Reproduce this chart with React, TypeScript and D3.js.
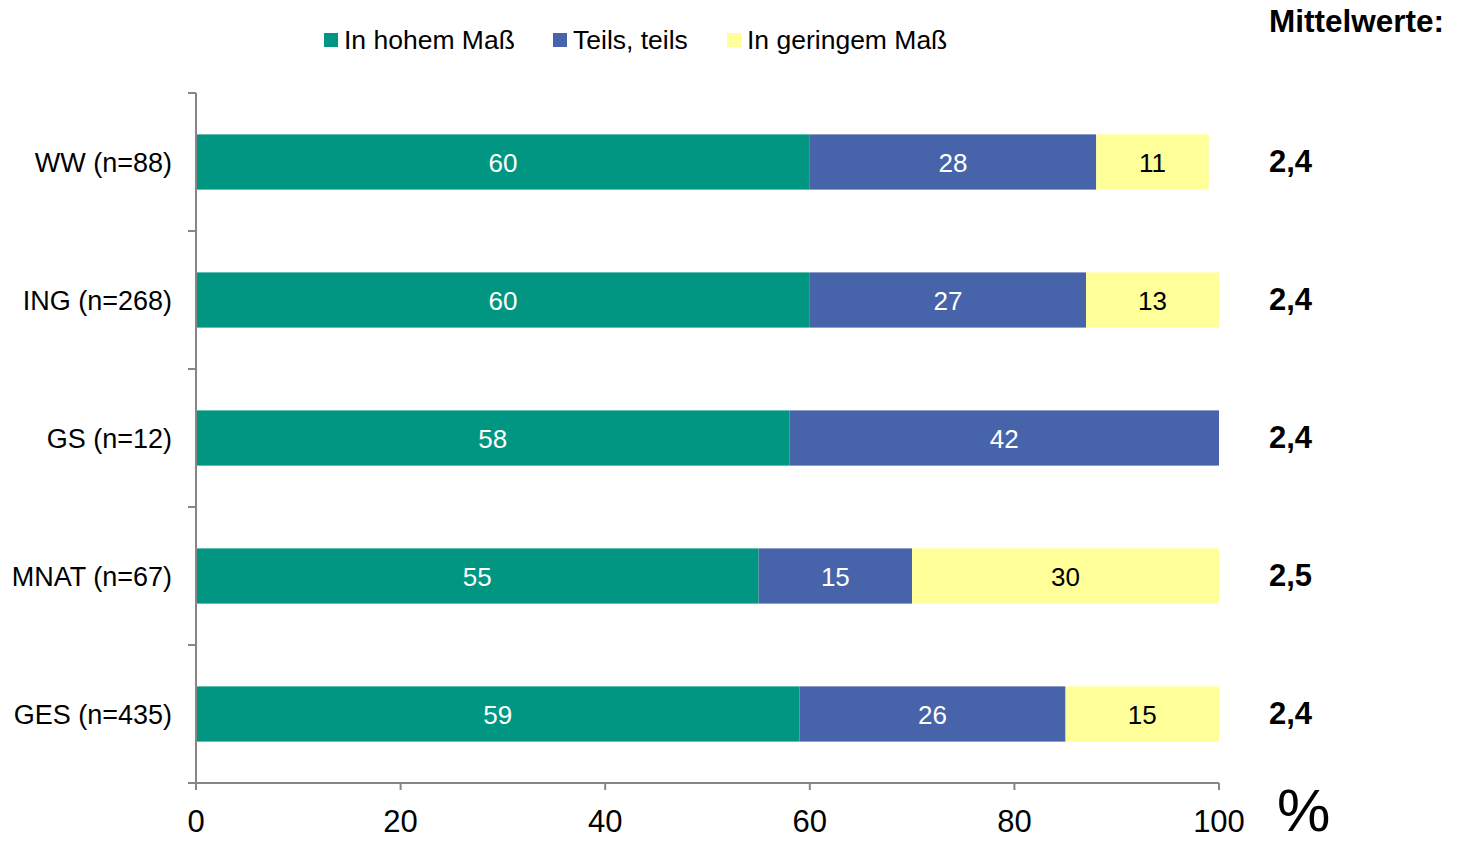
import React, { useRef, useEffect } from 'react';
import * as d3 from 'd3';

const categories = ['WW (n=88)', 'ING (n=268)', 'GS (n=12)', 'MNAT (n=67)', 'GES (n=435)'];
const seriesNames = ['In hohem Maß', 'Teils, teils', 'In geringem Maß'];
const hohem = [60, 60, 58, 55, 59];
const teils = [28, 27, 42, 15, 26];
const geringem = [11, 13, 0, 30, 15];
const means = ['2,4', '2,4', '2,4', '2,5', '2,4'];
const xTicks = [0, 20, 40, 60, 80, 100];

const colors = ['#009681', '#4763AA', '#FFFF99'];
const labelColors = ['#ffffff', '#ffffff', '#000000'];

function App() {
    const ref = useRef<SVGSVGElement | null>(null);

    useEffect(() => {
        const svg = d3.select(ref.current);
        svg.selectAll('*').remove();
        const font = '"Liberation Sans", Arial, sans-serif';

        const x = d3.scaleLinear().domain([0, 100]).range([196, 1219]);
        const y = d3.scaleBand().domain(categories).range([93, 783]).paddingInner(0.6).paddingOuter(0.3);
        const band = d3.scaleBand().domain(categories).range([93, 783]);

        const rows = categories.map((c, i) => ({ cat: c, vals: [hohem[i], teils[i], geringem[i]] }));
        const stack = d3.stack<any>().keys(['0', '1', '2'])
            .value((d, k) => d.vals[+k]);
        const layers = stack(rows);

        layers.forEach((layer, si) => {
            const g = svg.append('g');
            g.selectAll('rect').data(layer).enter().append('rect')
                .attr('x', d => x(d[0]))
                .attr('y', d => y(d.data.cat)!)
                .attr('width', d => x(d[1]) - x(d[0]))
                .attr('height', y.bandwidth())
                .attr('fill', colors[si]);
            g.selectAll('text').data(layer.filter(d => d[1] - d[0] > 0)).enter().append('text')
                .attr('x', d => (x(d[0]) + x(d[1])) / 2)
                .attr('y', d => y(d.data.cat)! + y.bandwidth() / 2 + 1)
                .attr('dy', '0.35em')
                .attr('text-anchor', 'middle')
                .attr('font-family', font)
                .attr('font-size', 26)
                .attr('fill', labelColors[si])
                .text(d => String(d[1] - d[0]));
        });

        // axes
        const axisColor = '#868686';
        const xAxis = svg.append('g');
        xAxis.append('line')
            .attr('x1', x(0)).attr('x2', x(100)).attr('y1', 783).attr('y2', 783)
            .attr('stroke', axisColor).attr('stroke-width', 2);
        xAxis.selectAll('line.tick').data(xTicks).enter().append('line')
            .attr('class', 'tick')
            .attr('x1', d => x(d)).attr('x2', d => x(d)).attr('y1', 783).attr('y2', 790)
            .attr('stroke', axisColor).attr('stroke-width', 2);
        xAxis.selectAll('text').data(xTicks).enter().append('text')
            .attr('x', d => x(d)).attr('y', 832)
            .attr('text-anchor', 'middle')
            .attr('font-family', font).attr('font-size', 31)
            .attr('fill', '#000')
            .text(d => String(d));

        const yAxis = svg.append('g');
        yAxis.append('line')
            .attr('x1', 196).attr('x2', 196).attr('y1', 93).attr('y2', 783)
            .attr('stroke', axisColor).attr('stroke-width', 2);
        const yTickPos = categories.map(c => band(c)!).concat([783]);
        yAxis.selectAll('line.tick').data(yTickPos).enter().append('line')
            .attr('class', 'tick')
            .attr('x1', 188).attr('x2', 196).attr('y1', d => d).attr('y2', d => d)
            .attr('stroke', axisColor).attr('stroke-width', 2);
        yAxis.selectAll('text').data(categories).enter().append('text')
            .attr('x', 172)
            .attr('y', d => y(d)! + y.bandwidth() / 2 + 1)
            .attr('dy', '0.35em')
            .attr('text-anchor', 'end')
            .attr('font-family', font).attr('font-size', 27)
            .attr('fill', '#000')
            .text(d => d);

        // means
        svg.append('text')
            .attr('x', 1269).attr('y', 32)
            .attr('font-family', font).attr('font-size', 31.5).attr('font-weight', 'bold')
            .attr('fill', '#000')
            .text('Mittelwerte:');
        svg.selectAll('text.mean').data(categories).enter().append('text')
            .attr('class', 'mean')
            .attr('x', 1269)
            .attr('y', d => y(d)! + y.bandwidth() / 2 - 1)
            .attr('dy', '0.35em')
            .attr('font-family', font).attr('font-size', 31).attr('font-weight', 'bold')
            .attr('fill', '#000')
            .text((d, i) => means[i]);

        svg.append('text')
            .attr('x', 1277).attr('y', 831)
            .attr('font-family', font).attr('font-size', 60)
            .attr('fill', '#000')
            .text('%');

        // legend
        const legendX = [324, 553, 727];
        const legend = svg.append('g');
        seriesNames.forEach((name, i) => {
            legend.append('rect')
                .attr('x', legendX[i]).attr('y', 33).attr('width', 14).attr('height', 14)
                .attr('fill', colors[i]);
            legend.append('text')
                .attr('x', legendX[i] + 20).attr('y', 40)
                .attr('dy', '0.35em')
                .attr('font-family', font).attr('font-size', 26.5)
                .attr('fill', '#000')
                .text(name);
        });
    }, []);

    return (
        <svg ref={ref} width={1458} height={844} style={{ position: 'absolute', left: 0, top: 0 }}></svg>
    );
}

export default App;
